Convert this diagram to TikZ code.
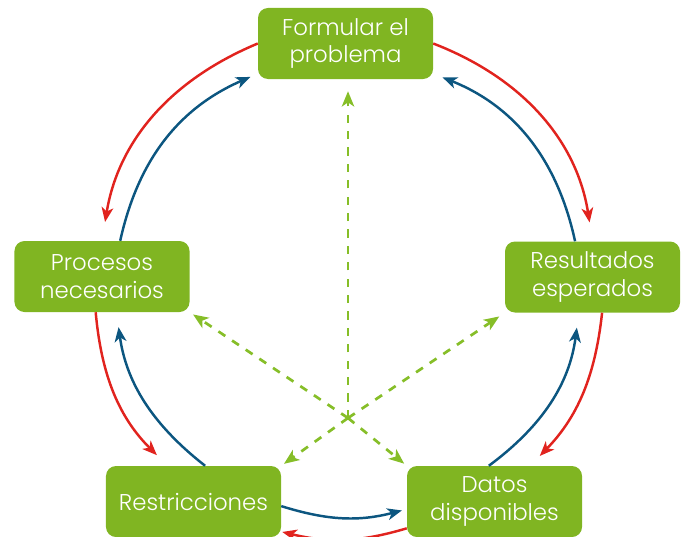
\documentclass[tikz,border=0pt]{standalone}
\usepackage{fontspec}
\setmainfont{Poppins Light}
\definecolor{leaf}{RGB}{128,181,34}
\definecolor{lime}{RGB}{134,190,40}
\definecolor{flame}{RGB}{225,35,30}
\definecolor{sea}{RGB}{12,86,128}
\usetikzlibrary{arrows.meta}
\tikzset{
	stage/.style={fill=leaf, rounded corners=0.3cm, minimum width=5.25cm, minimum height=2.13cm, inner sep=0pt, align=center, text=white, font=\fontsize{19.5}{23.5}\selectfont},
	redarc/.style={draw=flame, line width=2.1pt, -{Stealth[length=12.5pt,width=10pt,inset=3.5pt]}},
	bluearc/.style={draw=sea, line width=2.1pt, -{Stealth[length=12.5pt,width=10pt,inset=3.5pt]}},
	greendash/.style={draw=lime, line width=2.3pt, dash pattern=on 7pt off 7pt, -{Stealth[length=13pt,width=10.5pt,inset=3.5pt]}}
}

\begin{document}
\begin{tikzpicture}[line cap=butt, line join=round, x=0.03cm, y=-0.03cm]
	\useasboundingbox (0,0) rectangle (681,536);
	\node[stage] (form) at (345.5,43.5) {Formular el\\problema};
	\node[stage] (proc) at (102,276.5) {Procesos\\necesarios};
	\node[stage] (res) at (592.5,277) {Resultados\\esperados};
	\node[stage] (rest) at (193.5,501.5) {Restricciones};
	\node[stage] (dat) at (494.5,501.5) {Datos\\disponibles};
	\coordinate (hub) at (348,418);

	\draw[redarc, shorten >=0.57cm] (form.west) to[bend right=29] (proc.north);
	\draw[redarc, shorten >=0.57cm] (form.east) to[bend left=30] (res.north);
	\draw[redarc, shorten >=0.41cm] (res.-75) to[bend left=19] (dat.45);
	\draw[redarc, shorten >=0.03cm] (dat.197) to[bend left=15] (rest.-19);
	\draw[redarc, shorten >=0.45cm] (proc.-100) to[bend right=20] (rest.126);

	\draw[bluearc, shorten >=0.24cm] (proc.63) to[bend left=27] (form.199);
	\draw[bluearc, shorten >=0.3cm] (res.116) to[bend right=28] (form.-19);
	\draw[bluearc, shorten >=0.45cm] (rest.72) to[bend left=22] (proc.-68);
	\draw[bluearc, shorten >=0.45cm] (dat.99) to[bend right=23] (res.-111);
	\draw[bluearc, shorten >=0.15cm] (rest.-3) to[bend right=16] (dat.185);

	\draw[greendash, shorten >=0.36cm] (hub) -- (hub |- form.south);
	\draw[greendash, shorten >=0.12cm] (hub) -- (proc.south east);
	\draw[greendash, shorten >=0.2cm] (hub) -- (res.south west);
	\draw[greendash, shorten >=0.1cm] (hub) -- (rest.north east);
	\draw[greendash, shorten >=0.1cm] (hub) -- (dat.north west);
\end{tikzpicture}
\end{document}
